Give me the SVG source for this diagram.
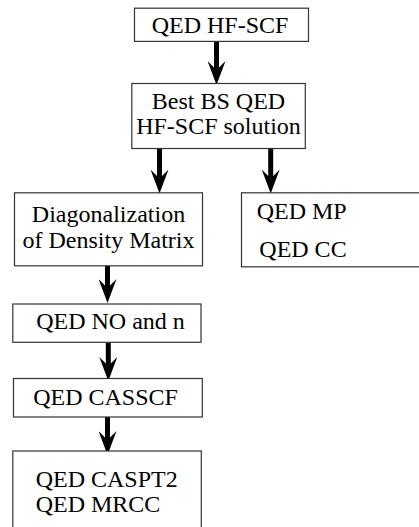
<svg xmlns="http://www.w3.org/2000/svg" width="419" height="527" viewBox="0 0 419 527">
<defs>
<marker id="ah" markerUnits="userSpaceOnUse" viewBox="0 0 24 18" markerWidth="24" markerHeight="18" refX="9" refY="9" orient="auto">
<path d="M0,0 L24,9 L0,18 L9,9 z" fill="#000"/>
</marker>
</defs>
<g id="connectors" stroke="#000" stroke-width="5" fill="none" marker-end="url(#ah)">
<line x1="216.5" y1="41.5" x2="216.5" y2="70"/>
<line x1="159.5" y1="148.5" x2="159.5" y2="178.5"/>
<line x1="270.7" y1="148.5" x2="270.7" y2="178.5"/>
<line x1="107.5" y1="266" x2="107.5" y2="288"/>
<line x1="108.3" y1="342.5" x2="108.3" y2="366"/>
<line x1="107.5" y1="417" x2="107.5" y2="440"/>
</g>
<g id="n1">
<rect fill="#fff" stroke="#333" stroke-width="1.2" x="134.5" y="8.2" width="174" height="33.2"/>
<text font-family="serif" font-size="24" text-anchor="middle" x="220" y="33.3">QED HF-SCF</text>
</g>
<g id="n2">
<rect fill="#fff" stroke="#333" stroke-width="1.2" x="131.8" y="83.5" width="173.5" height="65"/>
<text font-family="serif" font-size="24" text-anchor="middle" x="218.5" y="109">Best BS QED</text>
<text font-family="serif" font-size="24" text-anchor="middle" x="218.5" y="133.5">HF-SCF solution</text>
</g>
<g id="n3">
<rect fill="#fff" stroke="#333" stroke-width="1.2" x="14.5" y="192.8" width="188" height="73"/>
<text font-family="serif" font-size="24" text-anchor="middle" x="108.5" y="222.3">Diagonalization</text>
<text font-family="serif" font-size="24" text-anchor="middle" x="108.5" y="247.7">of Density Matrix</text>
</g>
<g id="n4">
<rect fill="#fff" stroke="#333" stroke-width="1.2" x="241.5" y="192.8" width="190" height="74"/>
<text font-family="serif" font-size="24" x="256.7" y="219.3">QED MP</text>
<text font-family="serif" font-size="24" x="259.3" y="256.7">QED CC</text>
</g>
<g id="n5">
<rect fill="#fff" stroke="#333" stroke-width="1.2" x="12.8" y="304" width="188.2" height="38.3"/>
<text font-family="serif" font-size="24" text-anchor="middle" x="110.5" y="329.3">QED NO and n</text>
</g>
<g id="n6">
<rect fill="#fff" stroke="#333" stroke-width="1.2" x="13.5" y="378.5" width="188.8" height="38.5"/>
<text font-family="serif" font-size="24" text-anchor="middle" x="105.5" y="405">QED CASSCF</text>
</g>
<g id="n7">
<rect fill="#fff" stroke="#333" stroke-width="1.2" x="12.8" y="451" width="188.5" height="90"/>
<text font-family="serif" font-size="24" x="35.7" y="486.7">QED CASPT2</text>
<text font-family="serif" font-size="24" x="35.7" y="511.7">QED MRCC</text>
</g>
</svg>
